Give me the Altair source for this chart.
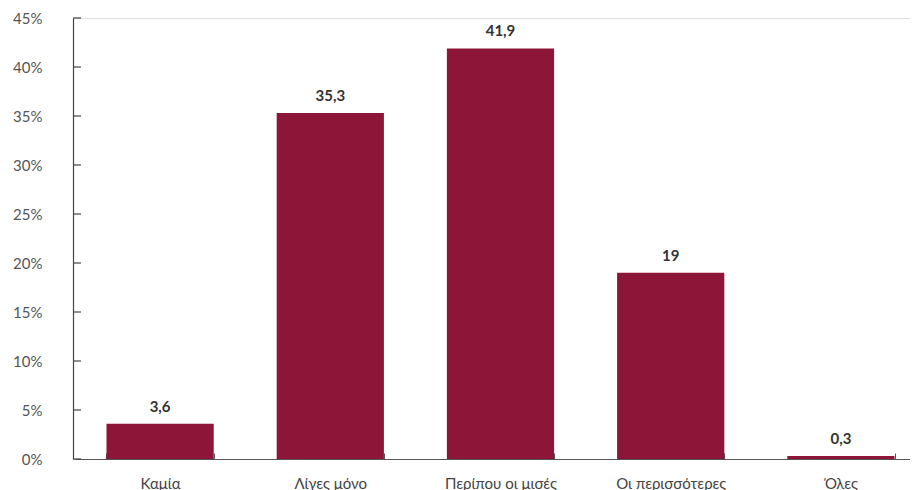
import altair as alt
import pandas as pd

categories = ["Καμία", "Λίγες μόνο", "Περίπου οι μισές", "Οι περισσότερες", "Όλες"]
values = [3.6, 35.3, 41.9, 19, 0.3]
y_ticks = [0, 5, 10, 15, 20, 25, 30, 35, 40, 45]

df = pd.DataFrame({"cat": categories, "v": values})
ticks_df = pd.DataFrame({"t": y_ticks})

FONT = "Lato"
BAR = "#8C1538"
W, H = 837, 441
P_IN, P_OUT = 0.37, 0.185
R0, R1 = 2, 853
STEP = (R1 - R0) / len(categories)
TICK_SHIFT = -P_OUT * STEP

xscale = alt.Scale(domain=categories, range=[R0, R1], paddingInner=P_IN, paddingOuter=P_OUT)
yscale = alt.Scale(domain=[0, 45], nice=False)

base = alt.Chart(df)

bars = base.mark_bar(color=BAR).encode(
    x=alt.X("cat:N", scale=xscale, sort=categories,
            axis=alt.Axis(title=None, labelAngle=0, labelPadding=23,
                          ticks=True, tickBand="extent", tickSize={"expr": "-6"},
                          tickOffset={"expr": f"{TICK_SHIFT:.2f}"},
                          tickColor="#555", tickWidth=1,
                          labelFontSize=15, labelColor="#444", labelFont=FONT,
                          domainColor="#555", domainWidth=1.2)),
    y=alt.Y("v:Q", scale=yscale,
            axis=alt.Axis(title=None, values=y_ticks, ticks=False, grid=False,
                          labelExpr="datum.value + '%'", labelPadding=31,
                          labelFontSize=15, labelColor="#555", labelFont=FONT,
                          domainColor="#444", domainWidth=1.2)),
)

text = base.transform_calculate(
    label="replace(format(datum.v, ''), '.', ',')"
).mark_text(baseline="bottom", dy=-9, fontSize=15, fontWeight="bold",
            color="#333", font=FONT).encode(
    x=alt.X("cat:N", scale=xscale, sort=categories),
    y=alt.Y("v:Q", scale=yscale),
    text="label:N",
)

yticks = alt.Chart(ticks_df).mark_rule(color="#444", strokeWidth=1.2).encode(
    y=alt.Y("t:Q", scale=yscale),
    x=alt.value(0),
    x2=alt.value(8),
)

chart = alt.layer(bars, yticks, text).properties(
    width=W, height=H,
    autosize=alt.AutoSizeParams(type="none"),
    padding={"left": 65, "top": 10, "right": 0, "bottom": 32},
).configure_view(stroke=None).configure(background="white")

chart.save("out.html", embed_options={"renderer": "svg", "actions": False})
